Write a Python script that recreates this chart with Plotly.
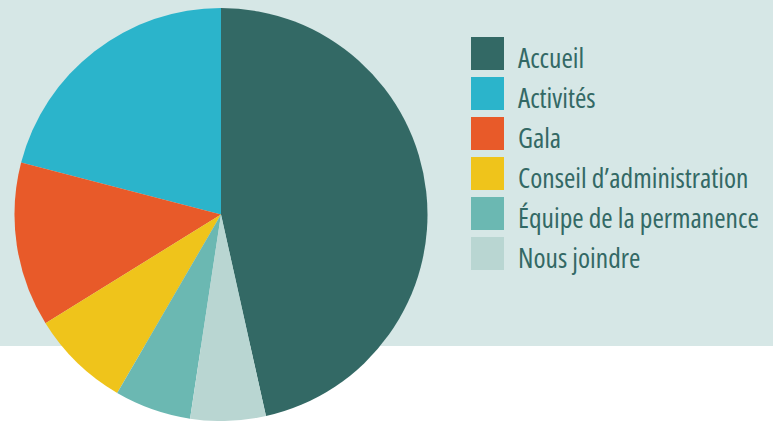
import plotly.graph_objects as go

W, H = 773, 421

labels = ["Accueil", "Activités", "Gala", "Conseil d’administration",
          "Équipe de la permanence", "Nous joindre"]
values = [46.6, 21.0, 12.9, 7.8, 6.0, 5.9]
colors = ["#336965", "#2bb4cb", "#e85a29", "#efc41b", "#6bb8b2", "#b9d6d2"]

text_color = "#336965"
band_color = "#d6e7e6"


def px_x(x):
    return x / W


def px_y(y):
    return 1 - y / H


# counterclockwise: first slice runs from its own size back to 12 o'clock
fig = go.Figure(go.Pie(
    labels=labels,
    values=values,
    sort=False,
    direction="counterclockwise",
    rotation=0,
    marker=dict(colors=colors, line=dict(width=0)),
    textinfo="none",
    hoverinfo="label+percent",
    showlegend=False,
    domain=dict(x=[px_x(14), px_x(428)], y=[0, px_y(8)]),
))

# light band behind the top part, then a hand-made legend with big swatches
shapes = [dict(type="rect", xref="paper", yref="paper", x0=0, x1=1,
               y0=px_y(346), y1=1, fillcolor=band_color, line=dict(width=0),
               layer="below")]
annotations = []
for i, (lab, col) in enumerate(zip(labels, colors)):
    top = 37 + 40 * i
    shapes.append(dict(type="rect", xref="paper", yref="paper",
                       x0=px_x(471), x1=px_x(504), y0=px_y(top + 33), y1=px_y(top),
                       fillcolor=col, line=dict(width=0)))
    annotations.append(dict(text=f'<span style="font-stretch:75%">{lab}</span>',
                            xref="paper", yref="paper",
                            x=px_x(516), y=px_y(top + 20), xanchor="left",
                            yanchor="middle", showarrow=False,
                            font=dict(family="Open Sans", size=27.5, color=text_color)))

fig.update_layout(
    width=W, height=H,
    margin=dict(l=0, r=0, t=0, b=0),
    paper_bgcolor="white",
    plot_bgcolor="white",
    shapes=shapes,
    annotations=annotations,
)

fig.write_html("out.html", config={"displayModeBar": False},
               post_script="document.body.style.margin='0';")
